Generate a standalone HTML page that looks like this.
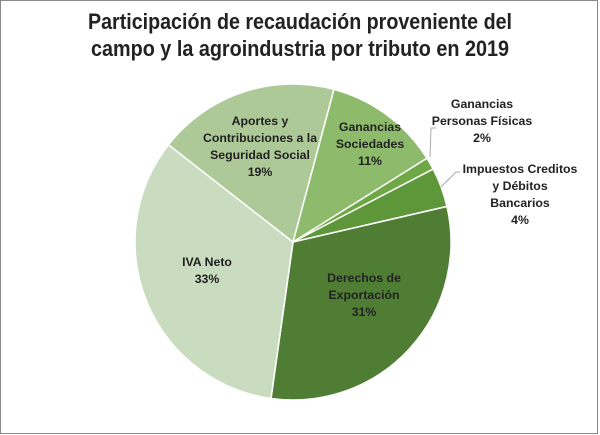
<!DOCTYPE html>
<html><head><meta charset="utf-8"><style>
html,body{margin:0;padding:0;background:#fff}
svg{display:block}
text{font-family:"Liberation Sans",sans-serif}
.l{font-size:12.3px;font-weight:bold;fill:#222;text-anchor:middle}
</style></head><body>
<svg width="600" height="435" viewBox="0 0 600 435" xmlns="http://www.w3.org/2000/svg">
<rect x="0.5" y="0.5" width="597" height="433" fill="#fff" stroke="#888"/>
<text x="300" y="29" text-anchor="middle" font-size="22" font-weight="bold" fill="#222" textLength="424" lengthAdjust="spacingAndGlyphs">Participación de recaudación proveniente del</text>
<text x="300" y="56" text-anchor="middle" font-size="22" font-weight="bold" fill="#222" textLength="418" lengthAdjust="spacingAndGlyphs">campo y la agroindustria por tributo en 2019</text>
<g id="pie" stroke="#fff" stroke-width="1.5"></g>
<g fill="none" stroke="#aaa" stroke-width="1">
<polyline points="430,157 431,128 436,128"/>
<polyline points="441,187 456,172 460,172"/>
</g>
<text class="l" x="260" y="125">Aportes y</text>
<text class="l" x="260" y="142">Contribuciones  a la</text>
<text class="l" x="260" y="159">Seguridad Social</text>
<text class="l" x="260" y="176">19%</text>
<text class="l" x="370" y="131">Ganancias</text>
<text class="l" x="370" y="148">Sociedades</text>
<text class="l" x="370" y="165">11%</text>
<text class="l" x="482" y="108">Ganancias</text>
<text class="l" x="482" y="125">Personas Físicas</text>
<text class="l" x="482" y="142">2%</text>
<text class="l" x="520" y="173">Impuestos  Creditos</text>
<text class="l" x="520" y="190">y Débitos</text>
<text class="l" x="520" y="207">Bancarios</text>
<text class="l" x="520" y="224">4%</text>
<text class="l" x="207" y="266">IVA Neto</text>
<text class="l" x="207" y="283">33%</text>
<text class="l" x="364" y="282">Derechos de</text>
<text class="l" x="364" y="299">Exportación</text>
<text class="l" x="364" y="316">31%</text>
</svg>
<script>
var cx=293,cy=242,r=158;
var s=[[15,58,"#8dbb6b"],[58,62.5,"#6ea745"],[62.5,77,"#5e963a"],[77,188,"#4e7d33"],[188,308,"#c9dcc0"],[308,375,"#adc998"]];
var g=document.getElementById("pie"),h="";
function p(a){a=a*Math.PI/180;return (cx+r*Math.sin(a)).toFixed(2)+","+(cy-r*Math.cos(a)).toFixed(2);}
s.forEach(function(x){var big=(x[1]-x[0])>180?1:0;
h+='<path d="M'+cx+','+cy+' L'+p(x[0])+' A'+r+','+r+' 0 '+big+' 1 '+p(x[1])+' Z" fill="'+x[2]+'"/>';});
g.innerHTML=h;
</script>
</body></html>
